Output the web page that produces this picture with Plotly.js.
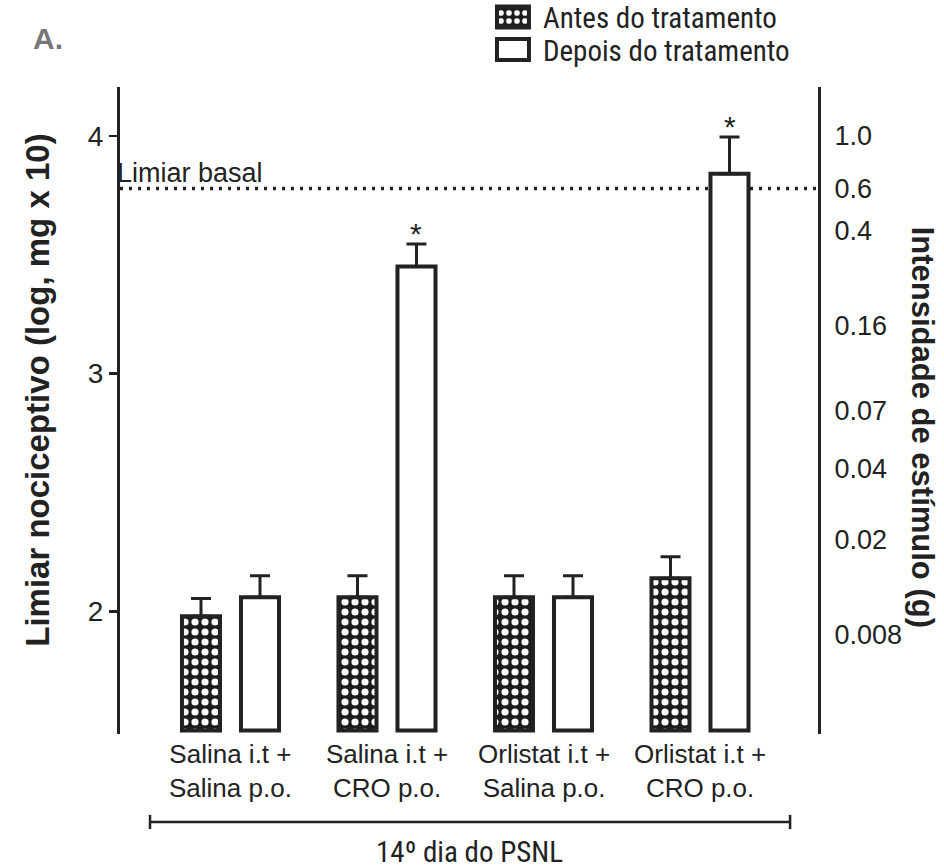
<!DOCTYPE html>
<html>
<head>
<meta charset="utf-8">
<script src="https://cdn.plot.ly/plotly-3.0.1.min.js"></script>
<style>html,body{margin:0;padding:0;background:#fff}</style>
</head>
<body>
<div id="chart" style="width:944px;height:868px"></div>
<script>
// ---- data ----
const catLine1 = ['Salina i.t +', 'Salina i.t +', 'Orlistat i.t +', 'Orlistat i.t +'];
const catLine2 = ['Salina p.o.', 'CRO p.o.', 'Salina p.o.', 'CRO p.o.'];
const seriesNames = ['Antes do tratamento', 'Depois do tratamento'];
const antes = [1.98, 2.06, 2.06, 2.14];
const antesErr = [0.075, 0.09, 0.09, 0.09];
const depois = [2.06, 3.45, 2.06, 3.84];
const depoisErr = [0.09, 0.095, 0.09, 0.155];
const significant = [false, true, false, true];
const leftTicks = [2, 3, 4];
const rightTickLabels = ['1.0', '0.6', '0.4', '0.16', '0.07', '0.04', '0.02', '0.008'];
const rightTickGrams = [1.0, 0.6, 0.4, 0.16, 0.07, 0.04, 0.02, 0.008];
const basalGrams = 0.6;
const basalLabel = 'Limiar basal';
const groupLabel = '14º dia do PSNL';
const panelLabel = 'A.';
const yTitle = 'Limiar nociceptivo (log, mg x 10)';
const y2Title = 'Intensidade de estímulo (g)';

// ---- derived ----
const toLog = g => Math.log10(g * 1000 * 10);
const rightTickVals = rightTickGrams.map(toLog);
const basal = toLog(basalGrams);
const xIdx = catLine1.map((c, i) => i);
const BASE = 1.5;

const INK = '#222';
const SANS = 'Liberation Sans, Arial, Helvetica, sans-serif';
const NARROW = 'Roboto Condensed, Liberation Sans Narrow, Arial Narrow, DejaVu Sans Condensed, sans-serif';
const OFF = 0.1885, BW = 0.243;
const yRange = [1.485, 4.205];

const traces = [
  {
    type: 'bar', name: seriesNames[0], x: xIdx, y: antes.map(v => v - BASE), base: BASE,
    width: BW, offset: -OFF - BW / 2,
    marker: {
      color: '#1c1c1c',
      line: {color: INK, width: 4},
      pattern: {shape: '.', bgcolor: '#1c1c1c', fgcolor: '#ffffff', fgopacity: 1, size: 10, solidity: 0.4}
    },
    error_y: {type: 'data', symmetric: false, array: antesErr, arrayminus: antesErr.map(() => 0), color: INK, thickness: 3, width: 10},
    hoverinfo: 'skip'
  },
  {
    type: 'bar', name: seriesNames[1], x: xIdx, y: depois.map(v => v - BASE), base: BASE,
    width: BW, offset: OFF - BW / 2,
    marker: {color: '#ffffff', line: {color: INK, width: 4}},
    error_y: {type: 'data', symmetric: false, array: depoisErr, arrayminus: depoisErr.map(() => 0), color: INK, thickness: 3, width: 10},
    hoverinfo: 'skip'
  },
  {type: 'scatter', x: [null], y: [null], yaxis: 'y2', showlegend: false, hoverinfo: 'skip'}
];

const annotations = [
  {xref: 'paper', yref: 'paper', x: -0.1035, y: 1.0745, xanchor: 'center', yanchor: 'middle',
   text: '<b>' + panelLabel + '</b>', showarrow: false, font: {family: SANS, size: 30, color: '#777'}},
  {xref: 'paper', yref: 'paper', x: -0.1175, y: 0.532, xanchor: 'center', yanchor: 'middle',
   text: '<b>' + yTitle + '</b>', showarrow: false, textangle: -90, font: {family: SANS, size: 33, color: INK}},
  {xref: 'paper', yref: 'paper', x: 1.149, y: 0.475, xanchor: 'center', yanchor: 'middle',
   text: '<b>' + y2Title + '</b>', showarrow: false, textangle: 90, font: {family: SANS, size: 31, color: INK}},
  {xref: 'paper', yref: 'y', x: 0, y: basal, xanchor: 'left', yanchor: 'bottom', xshift: -5, yshift: -1,
   text: basalLabel, showarrow: false, font: {family: SANS, size: 27, color: INK}},
  {xref: 'paper', yref: 'paper', x: 0.5014, y: -0.182, xanchor: 'center', yanchor: 'middle',
   text: groupLabel, showarrow: false, font: {family: NARROW, size: 29, color: INK}}
];
xIdx.forEach(i => {
  annotations.push({x: i, y: -0.0575, xref: 'x', yref: 'paper', text: catLine1[i] + '<br>' + catLine2[i], showarrow: false,
    xanchor: 'center', yanchor: 'middle', font: {family: SANS, size: 26, color: INK}});
});
significant.forEach((s, i) => {
  if (s) annotations.push({x: i + OFF, y: depois[i] + depoisErr[i], xref: 'x', yref: 'y', text: '*', showarrow: false,
    xanchor: 'center', yanchor: 'bottom', yshift: -8, font: {family: SANS, size: 30, color: INK}});
});

const bx0 = 0.043, bx1 = 0.96, by = -0.136, bt = 0.011;
const shapes = [
  {type: 'line', xref: 'paper', yref: 'y', x0: 0, x1: 1, y0: basal, y1: basal,
   line: {color: INK, width: 3.5, dash: '3px,6px'}, layer: 'below'},
  {type: 'line', xref: 'paper', yref: 'paper', x0: bx0, x1: bx1, y0: by, y1: by, line: {color: INK, width: 2.5}},
  {type: 'line', xref: 'paper', yref: 'paper', x0: bx0, x1: bx0, y0: by - bt, y1: by + bt, line: {color: INK, width: 2.5}},
  {type: 'line', xref: 'paper', yref: 'paper', x0: bx1, x1: bx1, y0: by - bt, y1: by + bt, line: {color: INK, width: 2.5}}
];

const layout = {
  width: 944, height: 868,
  margin: {l: 120, r: 126, t: 87, b: 134, autoexpand: false},
  paper_bgcolor: '#ffffff', plot_bgcolor: '#ffffff',
  font: {family: SANS, color: INK},
  barmode: 'overlay',
  showlegend: true,
  legend: {x: 0.52, xanchor: 'left', y: 1.1475, yanchor: 'top', bgcolor: 'rgba(0,0,0,0)', itemwidth: 50,
    font: {family: NARROW, size: 29, color: INK}, tracegroupgap: 0},
  xaxis: {range: [-0.706, 3.754], tickvals: xIdx, showticklabels: false, showline: false, showgrid: false,
    zeroline: false, ticks: '', fixedrange: true},
  yaxis: {range: yRange, tickvals: leftTicks, ticktext: leftTicks.map(String), ticks: 'outside', ticklen: 8, tickwidth: 2.5,
    tickcolor: INK, showline: true, linewidth: 3, linecolor: INK, showgrid: false, zeroline: false,
    tickfont: {family: SANS, size: 28, color: INK}, fixedrange: true},
  yaxis2: {overlaying: 'y', side: 'right', range: yRange, tickvals: rightTickVals, ticktext: rightTickLabels,
    showline: true, linewidth: 3, linecolor: INK, ticks: 'outside', ticklen: 8, tickcolor: 'rgba(0,0,0,0)',
    showgrid: false, zeroline: false, tickfont: {family: SANS, size: 27, color: INK}, fixedrange: true},
  annotations: annotations,
  shapes: shapes
};

Plotly.newPlot('chart', traces, layout, {staticPlot: true}).then(gd => {
  // enlarge legend swatches to match the reference
  gd.querySelectorAll('.legend .legendpoints path').forEach(p => {
    p.setAttribute('d', 'M16,10.5H-16V-10.5H16Z');
  });
  // tighten legend row spacing
  gd.querySelectorAll('.legend g.traces').forEach((g, i) => {
    const t = g.getAttribute('transform') || '';
    const m = /translate\(\s*([-\d.]+)[ ,]+([-\d.]+)\s*\)/.exec(t);
    if (m) g.setAttribute('transform', 'translate(' + m[1] + ',' + (parseFloat(m[2]) - 8 * i) + ')');
  });
});
</script>
</body>
</html>
